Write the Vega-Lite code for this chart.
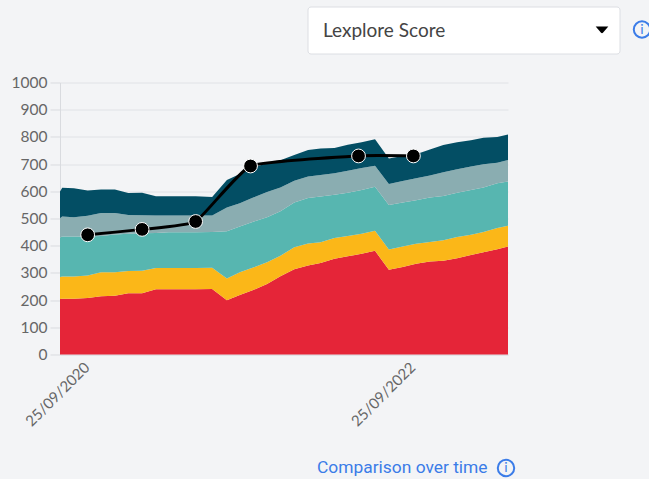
{
"$schema":"https://vega.github.io/schema/vega-lite/v6.json",
"width":448,"height":272,
"autosize":{"type":"none"},
"padding":{"left":60,"top":82.5,"right":141,"bottom":124.5},
"background":"#f3f4f6",
"view":{"stroke":null},
"config":{"font":"Lato"},
"datasets":{
"bands":[
{"date":"2020-07-25","b1":204,"b2":81,"b3":145,"b4":71,"b5":98},
{"date":"2020-07-30","b1":205,"b2":82,"b3":147,"b4":73,"b5":106},
{"date":"2020-08-25","b1":205,"b2":82,"b3":147,"b4":71,"b5":106},
{"date":"2020-09-25","b1":208,"b2":82,"b3":144,"b4":76,"b5":93},
{"date":"2020-10-25","b1":214,"b2":88,"b3":134,"b4":84,"b5":87},
{"date":"2020-11-25","b1":216,"b2":86,"b3":139,"b4":79,"b5":87},
{"date":"2020-12-25","b1":225,"b2":82,"b3":137,"b4":69,"b5":81},
{"date":"2021-01-25","b1":225,"b2":83,"b3":138,"b4":66,"b5":83},
{"date":"2021-02-25","b1":240,"b2":78,"b3":129,"b4":64,"b5":71},
{"date":"2021-03-25","b1":240,"b2":78,"b3":131,"b4":62,"b5":71},
{"date":"2021-04-25","b1":240,"b2":78,"b3":131,"b4":62,"b5":71},
{"date":"2021-05-25","b1":240,"b2":78,"b3":131,"b4":62,"b5":71},
{"date":"2021-07-01","b1":241,"b2":78,"b3":131,"b4":61,"b5":68},
{"date":"2021-08-03","b1":199,"b2":80,"b3":174,"b4":87,"b5":102},
{"date":"2021-09-01","b1":219,"b2":83,"b3":169,"b4":85,"b5":108},
{"date":"2021-10-01","b1":237,"b2":83,"b3":168,"b4":89,"b5":111},
{"date":"2021-11-01","b1":259,"b2":80,"b3":166,"b4":92,"b5":106},
{"date":"2021-12-01","b1":288,"b2":75,"b3":164,"b4":87,"b5":100},
{"date":"2022-01-01","b1":313,"b2":81,"b3":165,"b4":80,"b5":94},
{"date":"2022-02-01","b1":327,"b2":81,"b3":167,"b4":79,"b5":98},
{"date":"2022-03-01","b1":336,"b2":77,"b3":168,"b4":79,"b5":97},
{"date":"2022-04-01","b1":352,"b2":76,"b3":159,"b4":79,"b5":93},
{"date":"2022-05-01","b1":361,"b2":75,"b3":159,"b4":81,"b5":95},
{"date":"2022-06-01","b1":370,"b2":74,"b3":161,"b4":81,"b5":94},
{"date":"2022-07-01","b1":381,"b2":74,"b3":162,"b4":77,"b5":97},
{"date":"2022-08-01","b1":312,"b2":74,"b3":164,"b4":77,"b5":94},
{"date":"2022-09-01","b1":322,"b2":75,"b3":162,"b4":79,"b5":92},
{"date":"2022-10-01","b1":334,"b2":73,"b3":160,"b4":81,"b5":88},
{"date":"2022-11-01","b1":342,"b2":72,"b3":163,"b4":81,"b5":96},
{"date":"2022-12-01","b1":345,"b2":75,"b3":163,"b4":87,"b5":100},
{"date":"2023-01-01","b1":354,"b2":78,"b3":163,"b4":86,"b5":99},
{"date":"2023-02-01","b1":366,"b2":74,"b3":165,"b4":86,"b5":97},
{"date":"2023-03-01","b1":376,"b2":74,"b3":164,"b4":85,"b5":98},
{"date":"2023-04-01","b1":387,"b2":78,"b3":165,"b4":75,"b5":95},
{"date":"2023-04-25","b1":397,"b2":76,"b3":163,"b4":79,"b5":94}
],
"score":[
{"date":"2020-09-25","score":440},
{"date":"2021-01-25","score":460},
{"date":"2021-05-25","score":489},
{"date":"2021-09-25","score":693},
{"date":"2022-05-25","score":730},
{"date":"2022-09-25","score":730}
]
},
"layer":[
{"data":{"name":"bands"},
 "transform":[{"fold":["b1","b2","b3","b4","b5"],"as":["band","value"]}],
 "mark":{"type":"area","interpolate":"linear","clip":false},
 "encoding":{
  "x":{"field":"date","type":"temporal","scale":{"type":"utc","domain":["2020-07-25","2023-04-25"]},
   "axis":{"title":null,"grid":false,"ticks":false,"domainColor":"#d9dbdf","labelAngle":-45,"labelAlign":"right","labelBaseline":"top","labelColor":"#666666","labelFontSize":15,"labelPadding":5,"labelOffset":-6,"format":"%d/%m/%Y","labelOverlap":false,"labelFlush":false,
    "values":[{"year":2020,"month":9,"date":25,"utc":true},{"year":2022,"month":9,"date":25,"utc":true}]}},
  "y":{"field":"value","type":"quantitative","stack":"zero","scale":{"domain":[0,1000],"nice":false},
   "axis":{"title":null,"format":"d","values":[0,100,200,300,400,500,600,700,800,900,1000],"labelOverlap":false,"gridColor":"#e0e2e6","gridWidth":1,"domainColor":"#d9dbdf","tickColor":"#d9dbdf","tickSize":10,"labelColor":"#666666","labelFontSize":15.5,"labelPadding":3}},
  "color":{"field":"band","type":"nominal","legend":null,"scale":{"domain":["b1","b2","b3","b4","b5"],"range":["#e52538","#fbb718","#57b6b0","#8aadb1","#034e64"]}},
  "order":{"field":"band","sort":"ascending"}
 }},
{"data":{"name":"score"},
 "mark":{"type":"line","color":"#000000","strokeWidth":3,"interpolate":"cardinal","tension":0.6},
 "encoding":{
  "x":{"field":"date","type":"temporal","axis":{"title":null,"grid":false,"ticks":false,"domainColor":"#d9dbdf","labelAngle":-45,"labelAlign":"right","labelBaseline":"top","labelColor":"#666666","labelFontSize":15,"labelPadding":5,"labelOffset":-6,"format":"%d/%m/%Y","labelOverlap":false,"labelFlush":false,
    "values":[{"year":2020,"month":9,"date":25,"utc":true},{"year":2022,"month":9,"date":25,"utc":true}]}},
  "y":{"field":"score","type":"quantitative","axis":{"title":null,"format":"d","values":[0,100,200,300,400,500,600,700,800,900,1000],"labelOverlap":false,"gridColor":"#e0e2e6","gridWidth":1,"domainColor":"#d9dbdf","tickColor":"#d9dbdf","tickSize":10,"labelColor":"#666666","labelFontSize":15.5,"labelPadding":3}}}},
{"data":{"name":"score"},
 "mark":{"type":"point","filled":true,"fill":"#000000","stroke":"#ffffff","strokeWidth":1,"opacity":1,"size":190},
 "encoding":{
  "x":{"field":"date","type":"temporal","axis":{"title":null,"grid":false,"ticks":false,"domainColor":"#d9dbdf","labelAngle":-45,"labelAlign":"right","labelBaseline":"top","labelColor":"#666666","labelFontSize":15,"labelPadding":5,"labelOffset":-6,"format":"%d/%m/%Y","labelOverlap":false,"labelFlush":false,
    "values":[{"year":2020,"month":9,"date":25,"utc":true},{"year":2022,"month":9,"date":25,"utc":true}]}},
  "y":{"field":"score","type":"quantitative","axis":{"title":null,"format":"d","values":[0,100,200,300,400,500,600,700,800,900,1000],"labelOverlap":false,"gridColor":"#e0e2e6","gridWidth":1,"domainColor":"#d9dbdf","tickColor":"#d9dbdf","tickSize":10,"labelColor":"#666666","labelFontSize":15.5,"labelPadding":3}}}},
{"data":{"values":[{"label":"Lexplore Score"}]},
 "layer":[
  {"mark":{"type":"rect","x":248,"x2":560,"y":-75.5,"y2":-28.5,"fill":"#ffffff","stroke":"#dcdee3","strokeWidth":1,"cornerRadius":3},"encoding":{}},
  {"mark":{"type":"text","x":263,"y":-52,"align":"left","baseline":"middle","fontSize":19,"fill":"#444444"},"encoding":{"text":{"field":"label"}}},
  {"mark":{"type":"point","shape":"M-1,-0.55L1,-0.55L0.15,0.45Q0,0.6,-0.15,0.45Z","filled":true,"fill":"#000000","strokeWidth":0,"opacity":1,"size":160,"x":542,"y":-52.5},"encoding":{}},
  {"mark":{"type":"point","shape":"circle","filled":false,"stroke":"#3b7ce8","strokeWidth":2,"opacity":1,"size":270,"x":582,"y":-53},"encoding":{}},
  {"mark":{"type":"text","x":582,"y":-53,"align":"center","baseline":"middle","fontSize":14,"fill":"#3b7ce8"},"encoding":{"text":{"value":"i"}}}
 ]},
{"data":{"values":[{"label":"Comparison over time"}]},
 "layer":[
  {"mark":{"type":"text","x":257,"y":385.5,"align":"left","baseline":"middle","font":"Roboto","fontSize":17.4,"fill":"#3b7ce8"},"encoding":{"text":{"field":"label"}}},
  {"mark":{"type":"point","shape":"circle","filled":false,"stroke":"#3b7ce8","strokeWidth":2,"opacity":1,"size":270,"x":446,"y":385.5},"encoding":{}},
  {"mark":{"type":"text","x":446,"y":385.5,"align":"center","baseline":"middle","fontSize":14,"fill":"#3b7ce8"},"encoding":{"text":{"value":"i"}}}
 ]}
]
}
